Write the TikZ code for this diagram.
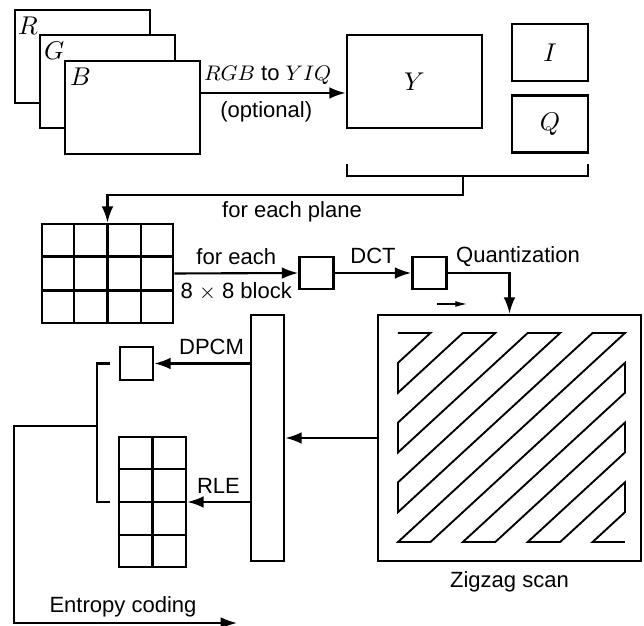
\documentclass[tikz,border=0pt]{standalone}
\usepackage{fontspec}
\setmainfont{Liberation Sans}
\usepackage{tikz}
\usetikzlibrary{arrows.meta, positioning, calc}
\newcommand{\planelbl}[1]{{\fontsize{10.5}{12}\selectfont$#1$}}

\begin{document}
\begin{tikzpicture}[
        x=0.015cm, y=-0.015cm,
        font=\fontsize{9.4}{11}\selectfont,
        box/.style={rectangle, draw=black, fill=white, line width=1.1pt, inner sep=0pt},
        plane/.style={box, minimum width=2.025cm, minimum height=1.395cm},
        cell/.style={box, minimum width=0.51cm, minimum height=0.48cm},
        gridline/.style={line width=1.1pt},
        arrow/.style={-{Latex[length=7pt, width=5pt]}, line width=0.9pt, draw=black},
        wire/.style={line width=0.9pt},
        zz/.style={line width=0.8pt}
    ]
        \useasboundingbox (0,0) rectangle (644,626);

        % Planos de color
        \node [plane] (R) at (82.5,56.5) {};
        \node [anchor=north west, inner sep=0pt] (lr) at ([shift={(4,8)}]R.north west) {\planelbl{R}};
        \node [plane] (G) at (107.5,81.5) {};
        \node [anchor=north west, inner sep=0pt] (lg) at ([shift={(5,8)}]G.north west) {\planelbl{G}};
        \node [plane] (B) at (132.5,107.5) {};
        \node [anchor=north west, inner sep=0pt] (lb) at ([shift={(6,8)}]B.north west) {\planelbl{B}};

        % Planos YIQ
        \node [plane] (Y) at (414.5,81.5) {\planelbl{Y}};
        \node [box, minimum width=1.14cm, minimum height=0.85cm] (I) at (550,52.5) {\planelbl{I}};
        \node [box, minimum width=1.14cm, minimum height=0.85cm] (Q) at (550,124) {\planelbl{Q}};

        \coordinate (conv) at ([shift={(0,-14.5)}]B.east);
        \draw [arrow] (conv) -- (conv -| Y.west) node [pos=0.46, above] (lconv) {$RGB$ to $YIQ$} node [pos=0.45, below] (lopt) {(optional)};

        % Corchete y bajada a la imagen
        \coordinate (brl) at (347,164);
        \coordinate (brr) at (588,164);
        \draw [wire] (brl) -- ++(0,12) -| (brr);
        \coordinate (stem) at (463,176);

        \node [box, minimum width=1.965cm, minimum height=1.485cm] (img) at (107.5,273.5) {};
        \foreach \t in {0.25,0.5,0.75}
            \draw [gridline] ($(img.north west)!\t!(img.north east)$) -- ($(img.south west)!\t!(img.south east)$);
        \foreach \t in {0.3333,0.6667}
            \draw [gridline] ($(img.north west)!\t!(img.south west)$) -- ($(img.north east)!\t!(img.south east)$);

        \draw [arrow] (stem) -- ++(0,19) -| (img.north);
        \node (lplane) at (292,212) {for each plane};

        % Bloque, DCT y cuantizacion
        \node [cell] (blk) at (316.5,273) {};
        \node [cell] (dct) at (429.5,273) {};
        \draw [arrow] (img.east) -- (blk.west) node [midway, above] (lfor) {for each} node [midway, below] (lblock) {8 $\times$ 8 block};
        \draw [arrow] (blk.east) -- (dct.west) node [midway, above] (ldct) {DCT};
        \node (lquant) at (518,257) {Quantization};

        % Recorrido en zigzag
        \node [box, minimum width=3.945cm, minimum height=3.69cm] (zig) at (509.5,438) {};
        \draw [arrow] (dct.east) -| (zig.north);
        \coordinate (sa) at (437,304);
        \coordinate (sb) at (467,304);
        \draw [-{Latex[length=5pt, width=2.5pt]}, line width=0.45pt] (sa) -- (sb);
        \begin{scope}[shift={(398,333)}, x={(0.4864cm,0)}, y={(0,-0.4479cm)}]
            \draw [zz] (0,0) \foreach \k in {1,3,5} {-- (\k,0) -- (0,\k) -- (0,\k+1) -- (\k+1,0)} -- (7,0) -- (0,7)
                \foreach \k in {1,3,5} {-- (\k,7) -- (7,\k) -- (7,\k+1) -- (\k+1,7)} -- (7,7);
        \end{scope}
        \node [below=0.02cm of zig] (lzig) {Zigzag scan};

        % Separacion DC / AC
        \node [box, minimum width=0.495cm, minimum height=3.69cm] (bar) at (267.5,438) {};
        \draw [arrow] (zig.west) -- (bar.east);

        \node [box, minimum width=0.495cm, minimum height=0.495cm] (dp) at (136.5,363.5) {};
        \draw [arrow] (bar.west |- dp.east) -- (dp.east) node [pos=0.4, above] (ldpcm) {DPCM};

        \node [box, minimum width=1.005cm, minimum height=1.95cm] (rl) at (152.5,502) {};
        \draw [gridline] (rl.north) -- (rl.south);
        \foreach \t in {0.25,0.5,0.75}
            \draw [gridline] ($(rl.north west)!\t!(rl.south west)$) -- ($(rl.north east)!\t!(rl.south east)$);
        \draw [arrow] (bar.west |- rl.east) -- (rl.east) node [midway, above] (lrle) {RLE};

        % Codificacion entropica
        \coordinate (ct) at ([shift={(-9,0)}]dp.west);
        \coordinate (cb) at ([shift={(-8,0)}]rl.west);
        \draw [wire] (ct) -- ++(-13,0) |- (cb);
        \coordinate (ent) at (98,426);
        \coordinate (out) at (237,623);
        \draw [arrow] (ent) -- (14,426) |- (out);
        \node (lent) at (123,607) {Entropy coding};
\end{tikzpicture}
\end{document}
